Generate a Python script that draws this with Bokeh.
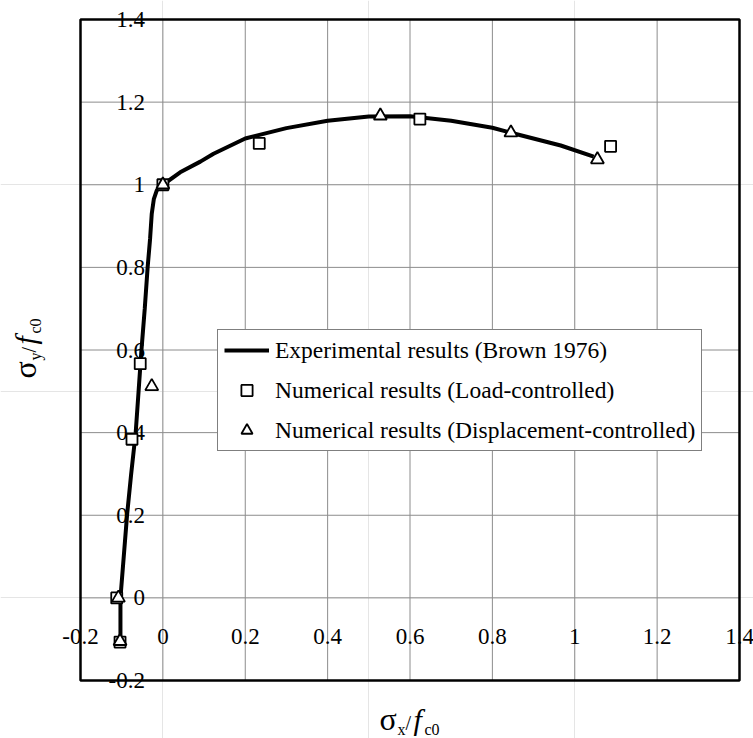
import math
from bokeh.plotting import figure
from bokeh.models import Range1d, Label, Legend, LegendItem
from bokeh.core.properties import value
from bokeh.embed import file_html
from bokeh.resources import INLINE

# ---------------- data ----------------
axis_min, axis_max = -0.2, 1.4
axis_cross = 0
tick_values = [-0.2, 0, 0.2, 0.4, 0.6, 0.8, 1, 1.2, 1.4]
tick_labels = ["-0.2", "0", "0.2", "0.4", "0.6", "0.8", "1", "1.2", "1.4"]

# Experimental results (Brown 1976)
exp_x = [-0.103, -0.103, -0.095, -0.087, -0.077, -0.066, -0.059, -0.052, -0.044,
         -0.037, -0.031, -0.027, -0.022, -0.015, -0.007, 0.0, 0.042, 0.091, 0.123,
         0.2, 0.3, 0.4, 0.5, 0.6, 0.7, 0.8, 0.845, 0.966, 1.046]
exp_y = [-0.107, 0.0, 0.1, 0.2, 0.3, 0.4, 0.5, 0.6, 0.7,
         0.8, 0.87, 0.93, 0.965, 0.986, 0.996, 1.0, 1.03, 1.056, 1.075,
         1.112, 1.137, 1.155, 1.165, 1.166, 1.155, 1.138, 1.126, 1.095, 1.068]

# Numerical results (Load-controlled)
load_x = [-0.104, -0.112, -0.075, -0.055, 0.0, 0.234, 0.624, 1.087]
load_y = [-0.107, 0.0, 0.384, 0.567, 1.0, 1.10, 1.159, 1.093]

# Numerical results (Displacement-controlled)
disp_x = [-0.104, -0.108, -0.027, 0.0, 0.528, 0.845, 1.055]
disp_y = [-0.105, 0.0, 0.512, 1.0, 1.167, 1.126, 1.061]

legend_labels = ["Experimental results (Brown 1976)",
                 "Numerical results (Load-controlled)",
                 "Numerical results (Displacement-controlled)"]

SERIF = "Liberation Serif"

# ---------------- layout (pixels) ----------------
W, H = 753, 738
PL, PR, PT, PB = 80, 14, 19, 58          # plot box margins inside the canvas
kx = (W - PL - PR) / (axis_max - axis_min)
ky = (H - PT - PB) / (axis_max - axis_min)
x_range = Range1d(axis_min - PL / kx, axis_max + PR / kx)
y_range = Range1d(axis_min - PB / ky, axis_max + PT / ky)

p = figure(width=W, height=H, x_range=x_range, y_range=y_range,
           x_axis_location=None, y_axis_location=None,
           output_backend="svg", toolbar_location=None,
           min_border=0, min_border_left=0, min_border_right=0,
           min_border_top=0, min_border_bottom=0)
p.background_fill_color = "white"
p.border_fill_color = "white"
p.outline_line_color = None

n = len(tick_values)
# grid lines inside the plot box
p.segment(x0=tick_values, y0=[axis_min] * n, x1=tick_values, y1=[axis_max] * n,
          line_color="#8c8c8c", line_width=1)
p.segment(x0=[axis_min] * n, y0=tick_values, x1=[axis_max] * n, y1=tick_values,
          line_color="#8c8c8c", line_width=1)

# plot box
p.quad(left=[axis_min], right=[axis_max], bottom=[axis_min], top=[axis_max],
       fill_color=None, line_color="black", line_width=2.5)

# tick labels at the axes crossing (Excel style)
p.text(x=tick_values, y=[axis_cross] * n, text=tick_labels,
       text_font=value(SERIF), text_font_size="23px", text_color="black",
       text_align="center", text_baseline="top", y_offset=31)
p.text(x=[axis_cross] * n, y=tick_values, text=tick_labels,
       text_font=value(SERIF), text_font_size="23px", text_color="black",
       text_align="right", text_baseline="middle", x_offset=-18)

r_exp = p.line(exp_x, exp_y, line_color="black", line_width=4)
r_load = p.scatter(load_x, load_y, marker="square", size=11,
                   fill_color="white", line_color="black", line_width=1.8)
r_disp = p.scatter(disp_x, disp_y, marker="triangle", size=13,
                   fill_color="white", line_color="black", line_width=1.8)

legend = Legend(items=[LegendItem(label=legend_labels[0], renderers=[r_exp]),
                       LegendItem(label=legend_labels[1], renderers=[r_load]),
                       LegendItem(label=legend_labels[2], renderers=[r_disp])],
                location=(217, H - 451))
legend.border_line_color = "black"
legend.border_line_width = 1
legend.background_fill_color = "white"
legend.background_fill_alpha = 1
legend.label_text_font = SERIF
legend.label_text_font_size = "23.5px"
legend.label_text_color = "black"
legend.glyph_width = 45
legend.glyph_height = 28
legend.label_height = 23
legend.label_standoff = 6
legend.spacing = 12
legend.padding = 6
legend.margin = 0
p.add_layout(legend)

# ---------------- axis titles (composed text) ----------------
def title_pieces(sub):
    # (text, font size px, style, offset along text, baseline shift)
    return [("σ", 32, "normal", 0, 0),
            (sub, 16, "normal", 18, 5),
            ("/", 20, "normal", 26, 0),
            ("f", 30, "italic", 34, 0),
            ("c0", 16, "normal", 45, 5)]

MID = 0.3375  # distance from baseline to the middle of the text, in em
FX0, FY0 = PL, H - PB  # screen position of data point (axis_min, axis_min)

for txt, fs, st, off, sh in title_pieces("x"):
    sx = 379 + off
    sy = 729 + sh - MID * fs
    p.add_layout(Label(x=axis_min, y=axis_min, x_offset=sx - FX0, y_offset=FY0 - sy,
                       text=txt, text_font=SERIF, text_font_size=f"{fs}px",
                       text_font_style=st, text_color="black",
                       text_align="left", text_baseline="middle"))

for txt, fs, st, off, sh in title_pieces("y"):
    sx = 35 + sh - MID * fs
    sy = 378 - off
    p.add_layout(Label(x=axis_min, y=axis_min, x_offset=sx - FX0, y_offset=FY0 - sy,
                       text=txt, text_font=SERIF, text_font_size=f"{fs}px",
                       text_font_style=st, text_color="black", angle=math.pi / 2,
                       text_align="left", text_baseline="middle"))

open("out.html", "w").write(file_html(p, INLINE))
